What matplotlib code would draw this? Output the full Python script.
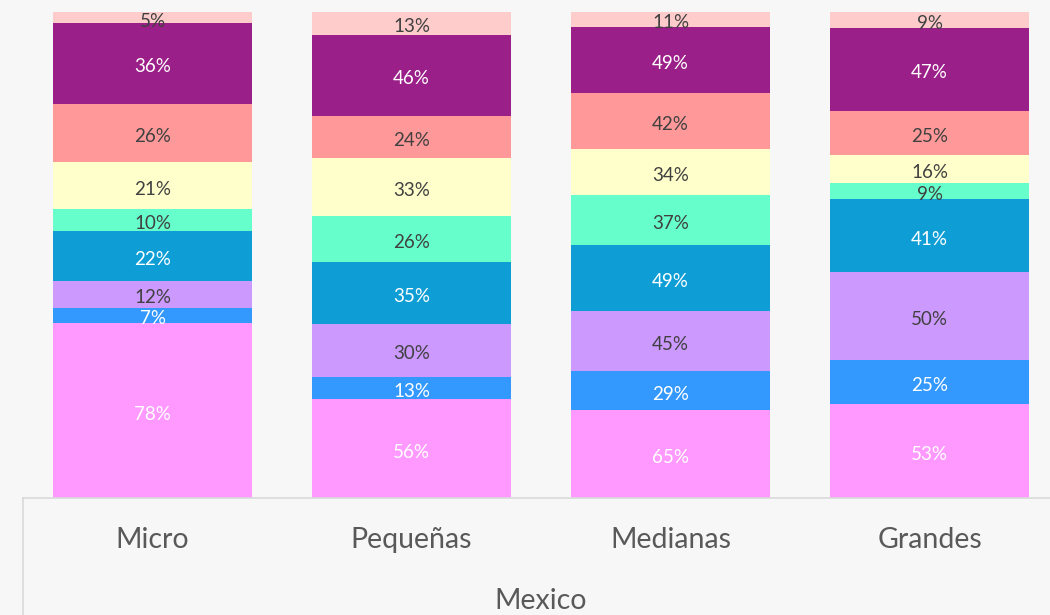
import matplotlib
matplotlib.use("Agg")
import matplotlib.pyplot as plt
from matplotlib.lines import Line2D
import numpy as np

categories = ["Micro", "Pequeñas", "Medianas", "Grandes"]
group_label = "Mexico"
# series from bottom to top
s1 = [78, 56, 65, 53]
s2 = [7, 13, 29, 25]
s3 = [12, 30, 45, 50]
s4 = [22, 35, 49, 41]
s5 = [10, 26, 37, 9]
s6 = [21, 33, 34, 16]
s7 = [26, 24, 42, 25]
s8 = [36, 46, 49, 47]
s9 = [5, 13, 11, 9]

series = [s1, s2, s3, s4, s5, s6, s7, s8, s9]
colors = ["#FF99FF", "#3399FF", "#CC99FF", "#0E9ED5", "#66FFCC",
          "#FFFFCC", "#FF9999", "#9B1F88", "#FFCCCC"]
text_colors = ["white", "white", "#404040", "white", "#404040",
               "#404040", "#404040", "white", "#404040"]

plt.rcParams['font.family'] = ['Lato', 'DejaVu Sans']
W, H = 1050, 615
fig = plt.figure(figsize=(W / 100, H / 100), dpi=100)
bg = "#F7F7F7"
fig.patch.set_facecolor(bg)

left_px, right_px, top_px, bot_px = 23, 1050, 12, 498
ax = fig.add_axes([left_px / W, 1 - bot_px / H, (right_px - left_px) / W, (bot_px - top_px) / H])
ax.set_facecolor(bg)

data = np.array(series, dtype=float)
totals = data.sum(axis=0)
frac = data / totals
x = np.arange(len(categories))
bottom = np.zeros(len(categories))
for vals, fr, c, tc in zip(series, frac, colors, text_colors):
    ax.bar(x, fr, 0.768, bottom=bottom, color=c, linewidth=0)
    for xi, v, b, f in zip(x, vals, bottom, fr):
        ax.annotate(f"{v}%", (xi, b + f / 2), xytext=(0, -2.5), textcoords="offset points",
                    ha="center", va="center", color=tc, fontsize=13.5)
    bottom += fr

ax.set_ylim(0, 1)
ax.set_xlim(-0.5, -0.5 + (right_px - left_px) / 259)
ax.set_yticks([])
ax.set_xticks(x)
ax.set_xticklabels(categories, fontsize=20.5, color="#595959")
ax.tick_params(axis="x", length=0, pad=21)
for s in ["top", "right", "left"]:
    ax.spines[s].set_visible(False)
ax.spines["bottom"].set_color("#D9D9D9")
ax.spines["bottom"].set_linewidth(1.2)

ax.text(1.5, -0.212, group_label, ha="center", va="center", fontsize=20.5,
        color="#595959", transform=ax.get_xaxis_transform())

fig.add_artist(Line2D([left_px / W, left_px / W], [0, 1 - bot_px / H],
                      color="#D9D9D9", linewidth=1.2, transform=fig.transFigure))

fig.savefig("out.png", dpi=100, facecolor=bg)
